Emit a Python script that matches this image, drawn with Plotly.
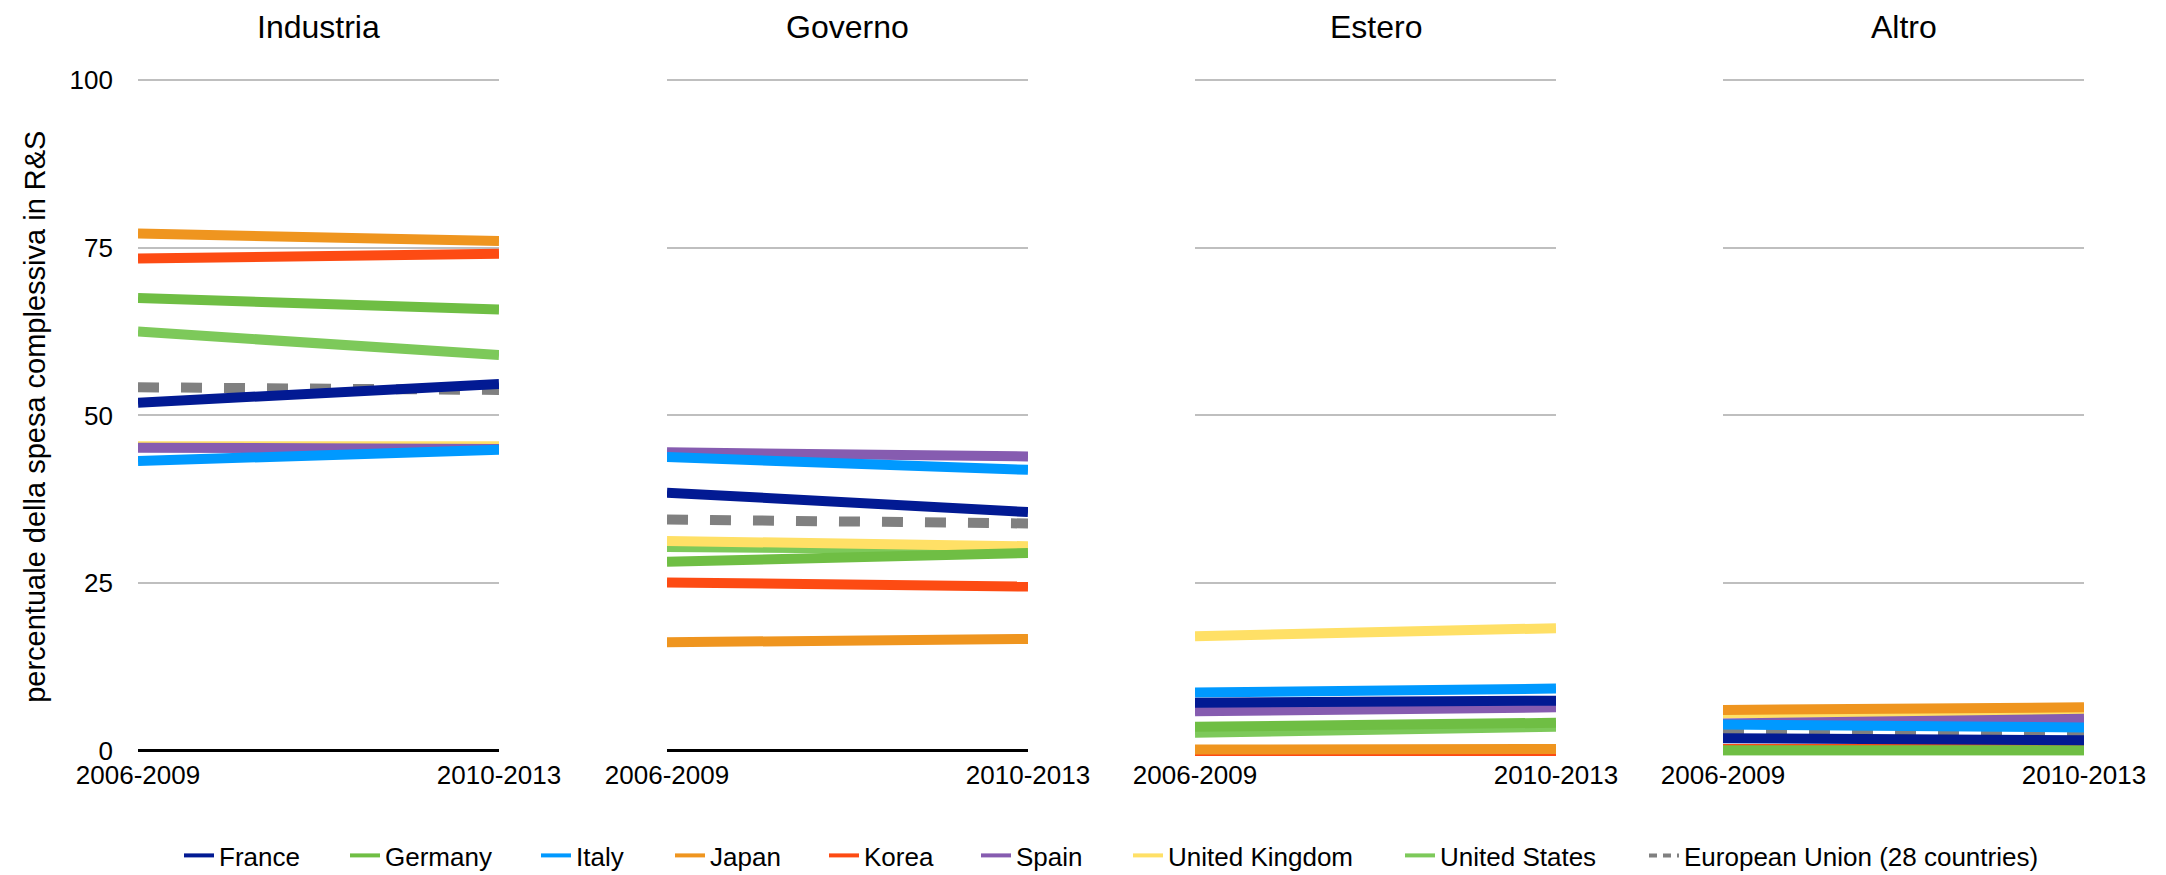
import plotly.graph_objects as go

W, H = 2166, 875

categories = ["2006-2009", "2010-2013"]
sectors = ["Industria", "Governo", "Estero", "Altro"]
countries = ["France", "Germany", "Italy", "Japan", "Korea", "Spain",
             "United Kingdom", "United States", "European Union (28 countries)"]
colors = ["#021a93", "#6fbe44", "#0099ff", "#ef951f", "#fd4b13", "#865cb0",
          "#ffe066", "#7dc95a", "#808080"]

# values aligned with `countries`
industria_0609 = [51.9, 67.5, 43.2, 77.1, 73.4, 45.2, 45.4, 62.5, 54.2]
industria_1013 = [54.7, 65.8, 44.9, 76.0, 74.1, 45.0, 45.4, 59.0, 53.8]
governo_0609 = [38.5, 28.2, 43.8, 16.2, 25.1, 44.5, 31.3, 30.4, 34.5]
governo_1013 = [35.6, 29.5, 41.9, 16.7, 24.5, 43.9, 30.5, 30.0, 33.9]
estero_0609 = [7.2, 3.6, 8.7, 0.2, 0.0, 5.9, 17.1, 2.7, None]
estero_1013 = [7.5, 4.2, 9.3, 0.3, 0.0, 6.5, 18.3, 3.6, None]
altro_0609 = [1.9, 0.1, 3.95, 6.1, 0.3, 4.1, 5.6, 0.1, 2.8]
altro_1013 = [1.6, 0.1, 3.5, 6.5, 0.3, 4.8, 5.9, 0.1, 2.5]

y_ticks = [0, 25, 50, 75, 100]
y_axis_title = "percentuale della spesa complessiva in R&S"

sector_start = [industria_0609, governo_0609, estero_0609, altro_0609]
sector_end = [industria_1013, governo_1013, estero_1013, altro_1013]

# drawing order (later = on top)
draw_order = [8, 7, 6, 5, 4, 3, 1, 2, 0]

FONT = "Liberation Sans, Arial, Helvetica, sans-serif"

# geometry (pixels)
panel_left = [138, 667, 1195, 1723]
panel_w = 361
plot_top, plot_bottom = 76.6, 757.0
ydom = [(H - plot_bottom) / H, (H - plot_top) / H]

fig = go.Figure()

for s in range(4):
    sfx = "" if s == 0 else str(s + 1)
    for c in draw_order:
        y0 = sector_start[s][c]
        y1 = sector_end[s][c]
        if y0 is None or y1 is None:
            continue
        is_eu = c == 8
        fig.add_trace(go.Scatter(
            x=categories, y=[y0, y1], mode="lines",
            line=dict(color=colors[c], width=10,
                      dash="21px,22px" if is_eu else "solid"),
            showlegend=False, hoverinfo="skip",
            xaxis="x" + sfx, yaxis="y" + sfx,
        ))

# legend entries (one legend per entry for exact placement)
legend_text_x = [219, 385, 576, 710, 864, 1016, 1168, 1440, 1684]
for c in range(9):
    lg = "legend" if c == 0 else "legend%d" % (c + 1)
    fig.add_trace(go.Scatter(
        x=[None], y=[None], mode="lines", name=countries[c],
        line=dict(color=colors[c], width=4,
                  dash="8px,6px" if c == 8 else "solid"),
        legend=lg, showlegend=True, hoverinfo="skip",
    ))

layout = dict(
    width=W, height=H,
    margin=dict(l=0, r=0, t=0, b=0, autoexpand=False),
    paper_bgcolor="white", plot_bgcolor="white",
    font=dict(family=FONT, color="black", size=26),
    showlegend=True,
)

for c in range(9):
    lg = "legend" if c == 0 else "legend%d" % (c + 1)
    layout[lg] = dict(
        orientation="h", x=(legend_text_x[c] - 40) / W, xanchor="left",
        y=-4 / H, yanchor="bottom", bgcolor="rgba(0,0,0,0)",
        borderwidth=0, font=dict(family=FONT, size=26, color="black"),
        itemclick=False, itemdoubleclick=False,
    )

annotations = []
for s in range(4):
    sfx = "" if s == 0 else str(s + 1)
    x0 = panel_left[s] / W
    x1 = (panel_left[s] + panel_w) / W
    layout["xaxis" + sfx] = dict(
        domain=[x0, x1], anchor="y" + sfx, type="category",
        range=[0, 1], showgrid=False, zeroline=False, showline=False,
        ticks="", tickfont=dict(family=FONT, size=26, color="black"),
        fixedrange=True, automargin=False,
    )
    layout["yaxis" + sfx] = dict(
        domain=ydom, anchor="x" + sfx, range=[-0.9, 100.5],
        tickvals=y_ticks, showticklabels=(s == 0),
        tickfont=dict(family=FONT, size=26, color="black"),
        ticklabelstandoff=24,
        showgrid=True, gridcolor="#bfbfbf", gridwidth=2,
        zeroline=True, zerolinecolor="black", zerolinewidth=2.5,
        showline=False, ticks="", fixedrange=True, automargin=False,
    )
    annotations.append(dict(
        text=sectors[s], xref="paper", yref="paper",
        x=(panel_left[s] + panel_w / 2) / W, y=(H - 27) / H,
        xanchor="center", yanchor="middle", showarrow=False,
        font=dict(family=FONT, size=32, color="black"),
    ))

annotations.append(dict(
    text=y_axis_title, xref="paper", yref="paper",
    x=34.8 / W, y=(H - 417) / H, xanchor="center", yanchor="middle",
    textangle=-90, showarrow=False,
    font=dict(family=FONT, size=29, color="black"),
))
layout["annotations"] = annotations

fig.update_layout(**layout)
fig.write_html("out.html", config={"displayModeBar": False})
